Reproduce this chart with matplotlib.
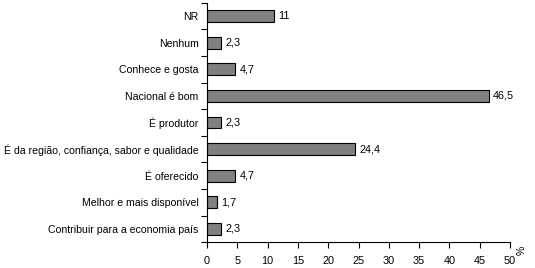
import matplotlib
matplotlib.use("Agg")
import matplotlib.pyplot as plt
import numpy as np

categories = ["NR", "Nenhum", "Conhece e gosta", "Nacional é bom", "É produtor",
              "É da região, confiança, sabor e qualidade", "É oferecido",
              "Melhor e mais disponível", "Contribuir para a economia país"]
values = [11, 2.3, 4.7, 46.5, 2.3, 24.4, 4.7, 1.7, 2.3]
labels = ["11", "2,3", "4,7", "46,5", "2,3", "24,4", "4,7", "1,7", "2,3"]
xticks = [0, 5, 10, 15, 20, 25, 30, 35, 40, 45, 50]

plt.rcParams['font.family'] = ['Liberation Sans', 'DejaVu Sans']
fig = plt.figure(figsize=(5.35, 2.68), dpi=100)
ax = fig.add_axes([207/535, 1-242.3/268, 303/535, (242.3-2.7)/268])
n = len(categories)
y = np.arange(n)[::-1]
ax.barh(y, values, height=0.45, color='#808080', edgecolor='black', linewidth=0.8)
for yi, v, lab in zip(y, values, labels):
    ax.text(v + 0.7, yi, lab, va='center', ha='left', fontsize=7.8)
ax.set_xlim(0, 50)
ax.set_ylim(-0.5, n - 0.5)
ax.set_yticks(y)
ax.set_yticklabels(categories, fontsize=7.6)
ax.set_yticks(np.arange(-0.5, n, 1), minor=True)
ax.tick_params(axis='y', which='major', length=0, pad=6)
ax.tick_params(axis='y', which='minor', length=4, width=0.8, direction='out')
ax.set_xticks(xticks)
ax.set_xticklabels([str(t) for t in xticks], fontsize=7.8)
ax.tick_params(axis='x', length=4, width=0.8, direction='out', pad=6)
for s in ['top', 'right']:
    ax.spines[s].set_visible(False)
for s in ['left', 'bottom']:
    ax.spines[s].set_linewidth(0.8)
fig.text(522/535, 1-250/268, "%", rotation=90, fontsize=7.5, ha='center', va='center')
fig.savefig("out.png", dpi=100)
